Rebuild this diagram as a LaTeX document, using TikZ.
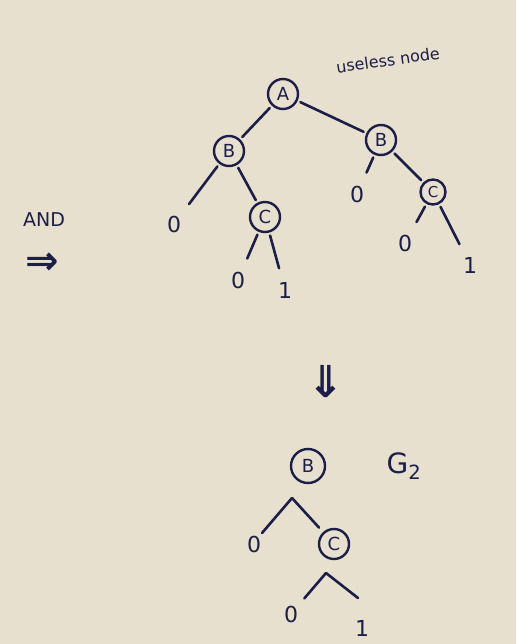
\documentclass[tikz,border=0pt]{standalone}
\usepackage{fontspec}
\setmainfont{DejaVu Sans}
\definecolor{paper}{RGB}{231,224,207}
\definecolor{ink}{RGB}{28,30,72}
\begin{document}
\begin{tikzpicture}[x=1pt,y=-1pt,
  bdd/.style={circle,draw=ink,line width=2.4pt,inner sep=0pt,minimum size=30pt,text=ink,font=\fontsize{18}{18}\selectfont},
  small/.style={bdd,minimum size=25pt,font=\fontsize{15}{15}\selectfont},
  leaf/.style={text=ink,font=\fontsize{22}{22}\selectfont,inner sep=1pt},
  edge/.style={draw=ink,line width=2.6pt,line cap=round,shorten <=3pt,shorten >=3pt},
  ledge/.style={edge,shorten >=13pt},
  lbl/.style={text=ink}]
\fill[paper] (0,0) rectangle (516,644);
\useasboundingbox (0,0) rectangle (516,644);
% top tree
\node[bdd] (A) at (283,94) {A};
\node[bdd] (B1) at (229,151) {B};
\node[bdd] (B2) at (381,140) {B};
\node[leaf] (l1) at (174,224) {0};
\node[bdd] (C1) at (265,217) {C};
\node[leaf] (l2) at (238,280) {0};
\node[leaf] (l3) at (285,290) {1};
\node[leaf] (l4) at (357,194) {0};
\node[small] (C2) at (433,192) {C};
\node[leaf] (l5) at (405,243) {0};
\node[leaf] (l6) at (470,265) {1};
\node[lbl,rotate=8,font=\fontsize{16}{16}\selectfont] (useless) at (388,60) {useless node};
\draw[edge] (A) -- (B1);
\draw[edge] (A) -- (B2);
\draw[ledge] (B1) -- (l1);
\draw[edge] (B1) -- (C1);
\draw[ledge] (C1) -- (l2);
\draw[ledge] (C1) -- (l3);
\draw[ledge] (B2) -- (l4);
\draw[edge] (B2) -- (C2);
\draw[ledge] (C2) -- (l5);
\draw[ledge] (C2) -- (l6);
% left label
\node[lbl,font=\fontsize{19}{19}\selectfont] (and) at (44,220) {AND};
\node[lbl,font=\fontsize{40}{40}\selectfont\bfseries] (imp) at (42,264) {⇒};
% down arrow
\node[lbl,font=\fontsize{44}{44}\selectfont\bfseries] (down) at (326,382) {⇓};
% bottom tree
\node[bdd,minimum size=34pt] (B3) at (308,466) {B};
\node[lbl,font=\fontsize{28}{28}\selectfont] (g2) at (404,466) {G\textsubscript{2}};
\node[leaf] (l7) at (254,544) {0};
\node[bdd] (C3) at (334,544) {C};
\node[leaf] (l8) at (291,614) {0};
\node[leaf] (l9) at (362,628) {1};
\coordinate (p1) at (292,498);
\coordinate (p2) at (326,573);
\coordinate (e1) at (262,533);
\coordinate (e2) at (358,598);
\draw[edge,shorten <=0pt,shorten >=0pt] (p1) -- (e1);
\draw[edge,shorten <=0pt,shorten >=6pt] (p1) -- (C3);
\draw[edge,shorten <=0pt,shorten >=8pt] (p2) -- (l8);
\draw[edge,shorten <=0pt,shorten >=0pt] (p2) -- (e2);
\end{tikzpicture}
\end{document}
